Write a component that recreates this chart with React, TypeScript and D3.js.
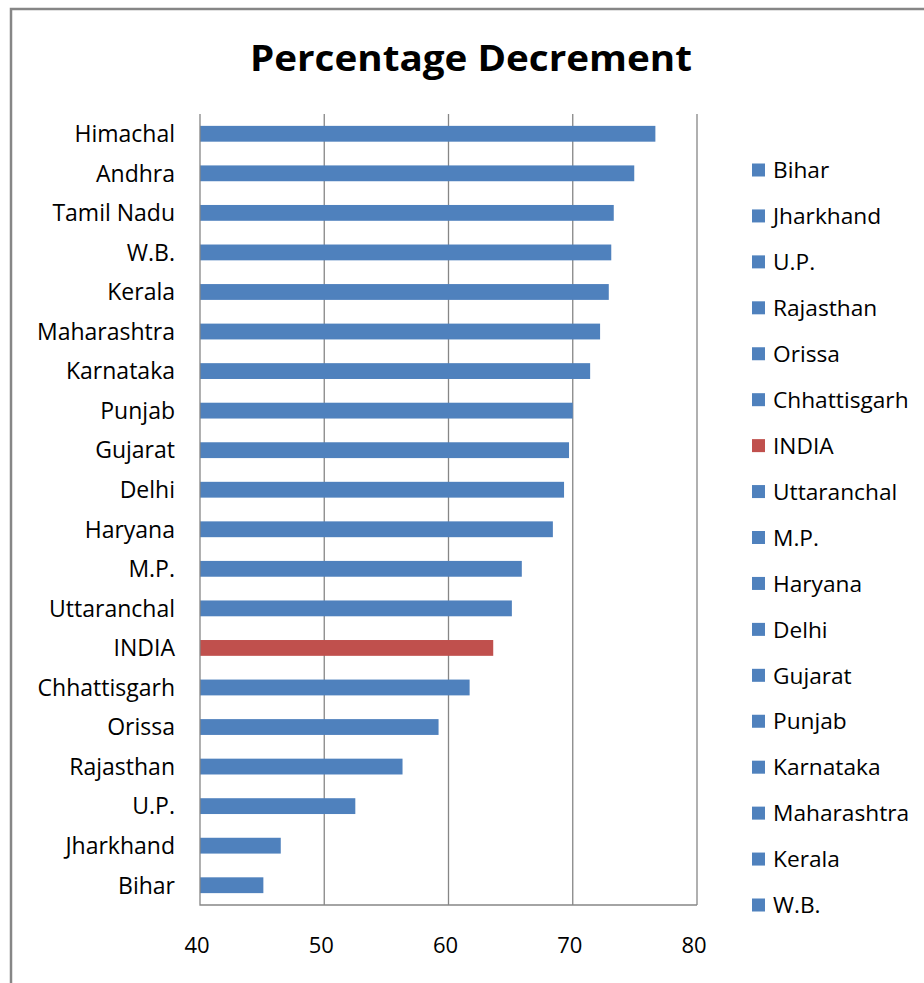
import { useEffect, useRef } from 'react'
import * as d3 from 'd3'

// bottom-to-top order, as in the sheet
const categories = [
  'Bihar', 'Jharkhand', 'U.P.', 'Rajasthan', 'Orissa', 'Chhattisgarh', 'INDIA',
  'Uttaranchal', 'M.P.', 'Haryana', 'Delhi', 'Gujarat', 'Punjab', 'Karnataka',
  'Maharashtra', 'Kerala', 'W.B.', 'Tamil Nadu', 'Andhra', 'Himachal',
]
const values = [
  45.1, 46.5, 52.5, 56.3, 59.2, 61.7, 63.6, 65.1, 65.9, 68.4, 69.3, 69.7, 70.0,
  71.4, 72.2, 72.9, 73.1, 73.3, 74.95, 76.65,
]
const xTicks = [40, 50, 60, 70, 80]
// legend box only had room for the first 17 entries
const legendItems = categories.slice(0, 17)

const BLUE = '#4F81BD'
const RED = '#C0504D'
const GRID = '#868686'
const FONT = '"Open Sans", Calibri, sans-serif'

export default function App() {
  const ref = useRef<SVGSVGElement>(null)

  const width = 924
  const height = 983
  const plot = { left: 200, right: 697, top: 114, bottom: 905 }

  useEffect(() => {
    if (!ref.current) return
    const svg = d3.select(ref.current)
    svg.selectAll('*').remove()

    const data = categories.map((c, i) => ({ name: c, value: values[i] }))
    const colorOf = (name: string) => (name === 'INDIA' ? RED : BLUE)

    // outer chart frame (cut off on the right / bottom)
    svg
      .append('path')
      .attr('d', `M11,${height + 5} V9 H${width + 5}`)
      .attr('fill', 'none')
      .attr('stroke', GRID)
      .attr('stroke-width', 2.5)

    // title
    svg
      .append('text')
      .attr('x', 471)
      .attr('y', 71)
      .attr('text-anchor', 'middle')
      .attr('textLength', 442)
      .attr('lengthAdjust', 'spacingAndGlyphs')
      .style('font-family', FONT)
      .style('font-weight', 700)
      .style('font-size', '35px')
      .attr('fill', '#000')
      .text('Percentage Decrement')

    const x = d3.scaleLinear().domain([40, 80]).range([plot.left, plot.right])
    const y = d3
      .scaleBand()
      .domain([...categories].reverse())
      .range([plot.top, plot.bottom])
      .paddingInner(0.6)
      .paddingOuter(0.3)

    // gridlines
    svg
      .append('g')
      .selectAll('line')
      .data(xTicks.slice(1))
      .enter()
      .append('line')
      .attr('x1', (d) => x(d))
      .attr('x2', (d) => x(d))
      .attr('y1', plot.top)
      .attr('y2', plot.bottom)
      .attr('stroke', GRID)
      .attr('stroke-width', 1.3)

    // bars
    svg
      .append('g')
      .selectAll('rect')
      .data(data)
      .enter()
      .append('rect')
      .attr('x', x(40))
      .attr('y', (d) => y(d.name)!)
      .attr('width', (d) => x(d.value) - x(40))
      .attr('height', y.bandwidth())
      .attr('fill', (d) => colorOf(d.name))

    // axis lines
    svg
      .append('path')
      .attr('d', `M${plot.left},${plot.top} V${plot.bottom} H${plot.right}`)
      .attr('fill', 'none')
      .attr('stroke', GRID)
      .attr('stroke-width', 1.3)

    // category labels
    svg
      .append('g')
      .selectAll('text')
      .data(data)
      .enter()
      .append('text')
      .attr('x', 175)
      .attr('y', (d) => y(d.name)! + y.bandwidth() / 2)
      .attr('dy', '0.36em')
      .attr('text-anchor', 'end')
      .style('font-family', FONT)
      .style('font-size', '23px')
      .attr('fill', '#000')
      .text((d) => d.name)

    // x tick labels
    svg
      .append('g')
      .selectAll('text')
      .data(xTicks)
      .enter()
      .append('text')
      .attr('x', (d) => x(d) - 3)
      .attr('y', 945)
      .attr('dy', '0.36em')
      .attr('text-anchor', 'middle')
      .style('font-family', FONT)
      .style('font-size', '22px')
      .attr('fill', '#000')
      .text((d) => d)

    // legend
    const legendY = d3
      .scalePoint()
      .domain(legendItems)
      .range([170, 905])

    const lg = svg
      .append('g')
      .selectAll('g')
      .data(legendItems)
      .enter()
      .append('g')
      .attr('transform', (d) => `translate(752, ${legendY(d)})`)

    lg.append('rect')
      .attr('x', 0)
      .attr('y', -6.5)
      .attr('width', 13)
      .attr('height', 13)
      .attr('fill', (d) => colorOf(d))

    lg.append('text')
      .attr('x', 21)
      .attr('y', 0)
      .attr('dy', '0.36em')
      .style('font-family', FONT)
      .style('font-size', '22.7px')
      .attr('fill', '#000')
      .text((d) => d)
  }, [])

  return (
    <div style={{ position: 'absolute', left: 0, top: 0 }}>
      <svg ref={ref} width={width} height={height} style={{ display: 'block', background: '#fff' }} />
    </div>
  )
}
